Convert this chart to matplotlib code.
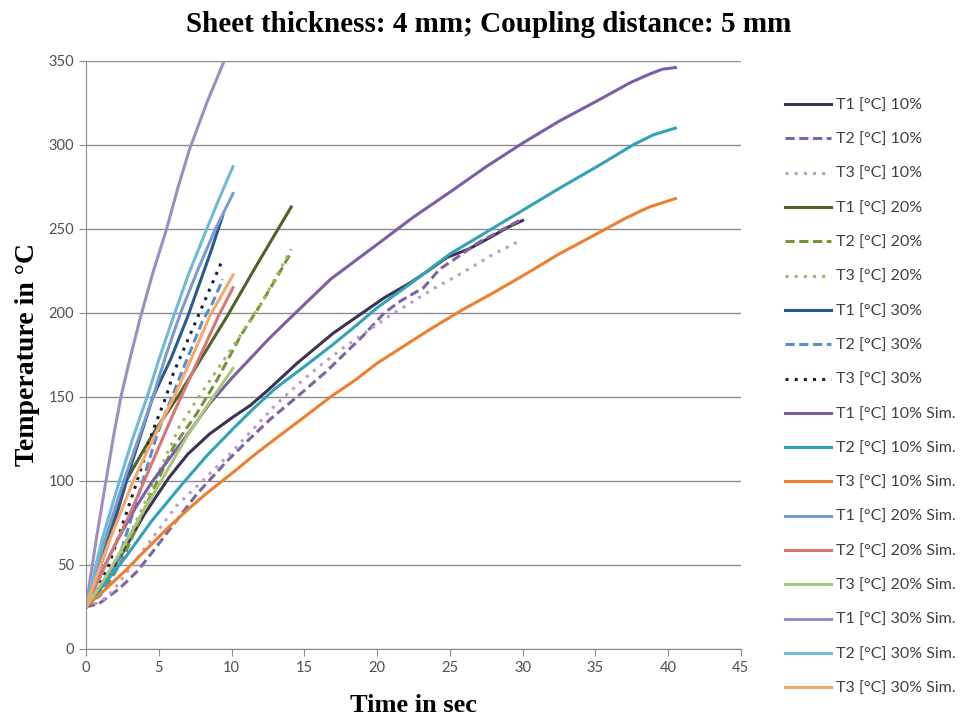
import matplotlib.pyplot as plt

# measured curves (time in s, temperature in degC)
t1_10_x = [0, 1, 2.5, 4, 5.7, 7, 8.5, 10.1, 11.3, 12.5, 14.5, 17, 19, 20.5, 22.3, 23.5, 24.8, 26.3, 27.8, 29, 30]
t1_10_y = [25, 36, 57, 80, 102, 116, 128, 138, 145, 154, 170, 188, 200, 209, 218, 225, 233, 238, 245, 251, 255]
t2_10_x = [0, 0.9, 2.3, 3.5, 4.6, 6, 7.6, 9.6, 11, 12.7, 14.5, 16.5, 19, 20.5, 21.6, 23.2, 24.3, 25.5, 27, 28.5, 30]
t2_10_y = [25, 27, 36, 46, 58, 74, 92, 111, 123, 137, 150, 165, 186, 200, 207, 215, 226, 233, 242, 249, 256]
t3_10_x = [0, 1, 1.9, 3.6, 5, 6.2, 8, 10, 11.5, 13, 14.5, 16, 17.8, 19.5, 21, 22.5, 24, 25.9, 27.8, 29.6]
t3_10_y = [25, 28, 35, 55, 71, 85, 100, 117, 131, 145, 157, 168, 180, 190, 199, 207, 215, 224, 234, 242]

t1_20_x = [0, 1.4, 2.75, 4.6, 6.3, 8, 9.7, 11.7, 14.1]
t1_20_y = [25, 63, 100, 128, 150, 174, 198, 228, 263]
t2_20_x = [0, 1.4, 2.5, 4.1, 6, 7.6, 9, 10.6, 12, 13.1, 14.1]
t2_20_y = [25, 37, 53, 85, 120, 140, 160, 186, 205, 221, 236]
t3_20_x = [0, 1.4, 2.5, 4.1, 6.4, 7.6, 10.1, 12, 13.1, 14.1]
t3_20_y = [25, 40, 58, 88, 132, 148, 180, 205, 222, 238]

t1_30_x = [0, 1.5, 3.2, 4.6, 5.8, 7, 8.6, 9.4]
t1_30_y = [25, 62, 112, 150, 172, 198, 237, 258]
t2_30_x = [0, 1, 2.3, 3.9, 4.9, 6.5, 8.0, 8.7, 9.4]
t2_30_y = [25, 32, 55, 100, 128, 163, 195, 206, 220]
t3_30_x = [0, 1.5, 3.4, 4.6, 5.5, 6, 7.7, 9.3]
t3_30_y = [25, 48, 97, 130, 150, 164, 198, 230]

# simulated curves
s1_10_x = [0, 0.6, 1.2, 2.3, 3.4, 4.5, 5.7, 7, 8.5, 10, 11.2, 12.5, 13.8, 15, 16.8, 18.5, 20.2,
           22.5, 25.2, 27.5, 30, 32.5, 35.3, 37.4, 38.7, 39.6, 40.5]
s1_10_y = [25, 37, 48, 67, 84, 99, 113, 128, 146, 161, 172, 184, 195, 205, 220, 231, 242,
           257, 273, 287, 301, 314, 327, 337, 342, 345, 346]
s2_10_x = [0, 1.2, 2.75, 4.5, 6.6, 8.3, 10.1, 11.5, 13, 15, 16.8, 18.5, 20, 22.7, 25, 27.5,
           30, 32.5, 35.3, 37.6, 39, 40.5]
s2_10_y = [25, 38, 55, 76, 98, 115, 131, 143, 155, 168, 180, 192, 203, 220, 235, 248,
           261, 274, 288, 300, 306, 310]
s3_10_x = [0, 1.4, 2.75, 4, 5.5, 7, 8.2, 10.1, 11.5, 13, 15, 16.8, 18.5, 20, 21.8, 23.6,
           25.9, 28, 30, 32.5, 35.3, 37, 38.7, 40.5]
s3_10_y = [25, 36, 47, 58, 71, 83, 92, 105, 115, 125, 138, 150, 160, 170, 180, 190,
           202, 212, 222, 235, 248, 256, 263, 268]

s1_20_x = [0, 1.2, 2.6, 3.6, 4.6, 5.5, 6.5, 7.7, 8.9, 10.1]
s1_20_y = [25, 62, 100, 125, 150, 175, 200, 226, 250, 271]
s2_20_x = [0, 1.5, 3, 4.5, 6, 7.5, 9.1, 10.1]
s2_20_y = [25, 53, 80, 110, 140, 168, 198, 215]
s3_20_x = [0, 1.3, 2.5, 4, 5.3, 6.9, 8.5, 10.1]
s3_20_y = [25, 42, 60, 83, 102, 126, 147, 167]

s1_30_x = [0, 0.7, 1.37, 1.9, 2.4, 3, 3.7, 4.6, 5.54, 6.3, 7.1, 8.3, 9.5, 10.1]
s1_30_y = [25, 65, 100, 127, 150, 172, 196, 224, 250, 274, 297, 325, 350, 362]
s2_30_x = [0, 1.1, 2.3, 3.2, 4.2, 5, 5.9, 7, 8.3, 9.2, 10.1]
s2_30_y = [25, 65, 100, 125, 150, 172, 195, 222, 250, 269, 287]
s3_30_x = [0, 1.5, 3.2, 4.6, 6.05, 7.3, 8.5, 10.1]
s3_30_y = [25, 62, 99, 125, 150, 174, 198, 222.5]

series = [
    (t1_10_x, t1_10_y, 'T1 [°C] 10%', '#3f3151', '-'),
    (t2_10_x, t2_10_y, 'T2 [°C] 10%', '#8064a2', (0, (3, 1.5))),
    (t3_10_x, t3_10_y, 'T3 [°C] 10%', '#b3a2c7', (0, (1, 2))),
    (t1_20_x, t1_20_y, 'T1 [°C] 20%', '#4f6228', '-'),
    (t2_20_x, t2_20_y, 'T2 [°C] 20%', '#77933c', (0, (3, 1.5))),
    (t3_20_x, t3_20_y, 'T3 [°C] 20%', '#9bbb59', (0, (1, 2))),
    (t1_30_x, t1_30_y, 'T1 [°C] 30%', '#2c5a8e', '-'),
    (t2_30_x, t2_30_y, 'T2 [°C] 30%', '#558ed5', (0, (3, 1.5))),
    (t3_30_x, t3_30_y, 'T3 [°C] 30%', '#0f243e', (0, (1, 2))),
    (s1_10_x, s1_10_y, 'T1 [°C] 10% Sim.', '#7c5ea6', '-'),
    (s2_10_x, s2_10_y, 'T2 [°C] 10% Sim.', '#31a2b8', '-'),
    (s3_10_x, s3_10_y, 'T3 [°C] 10% Sim.', '#ec8030', '-'),
    (s1_20_x, s1_20_y, 'T1 [°C] 20% Sim.', '#7b9bd0', '-'),
    (s2_20_x, s2_20_y, 'T2 [°C] 20% Sim.', '#d57874', '-'),
    (s3_20_x, s3_20_y, 'T3 [°C] 20% Sim.', '#a9c77a', '-'),
    (s1_30_x, s1_30_y, 'T1 [°C] 30% Sim.', '#a08cc4', '-'),
    (s2_30_x, s2_30_y, 'T2 [°C] 30% Sim.', '#6fbad6', '-'),
    (s3_30_x, s3_30_y, 'T3 [°C] 30% Sim.', '#f8a66c', '-'),
]

fig = plt.figure(figsize=(9.63, 7.19), dpi=100)
ax = fig.add_axes([0.0893, 0.0974, 0.680, 0.818])

for x, y, label, color, ls in series:
    ax.plot(x, y, color=color, linestyle=ls, linewidth=2.2, label=label,
            solid_joinstyle='round', dash_joinstyle='round')

ax.set_xlim(0, 45)
ax.set_ylim(0, 350)
ax.set_xticks(range(0, 46, 5))
ax.set_yticks(range(0, 351, 50))
ax.yaxis.grid(True, color='#8c8c8c', linewidth=1)
ax.set_axisbelow(True)
for s in ['top', 'right']:
    ax.spines[s].set_visible(False)
for s in ['left', 'bottom']:
    ax.spines[s].set_color('#8c8c8c')
ax.tick_params(colors='#8c8c8c', labelcolor='#505050', labelsize=10.5, length=5)
for lbl in ax.get_xticklabels() + ax.get_yticklabels():
    lbl.set_fontfamily('Lato')

serif = 'Liberation Serif'
ax.set_xlabel('Time in sec', fontfamily=serif, fontweight='bold', fontsize=19, labelpad=14)
ax.set_ylabel('Temperature in °C', fontfamily=serif, fontweight='bold', fontsize=20, labelpad=6)
fig.text(0.507, 0.985, 'Sheet thickness: 4 mm; Coupling distance: 5 mm', ha='center', va='top',
         fontfamily=serif, fontweight='bold', fontsize=21)

leg = fig.legend(loc='upper left', bbox_to_anchor=(0.8, 0.883), frameon=False,
                 prop={'family': 'Lato', 'size': 11.5}, handlelength=2.9,
                 handletextpad=0.3, labelspacing=1.26)
for t in leg.get_texts():
    t.set_color('#404040')

fig.savefig('out.png', dpi=100)
